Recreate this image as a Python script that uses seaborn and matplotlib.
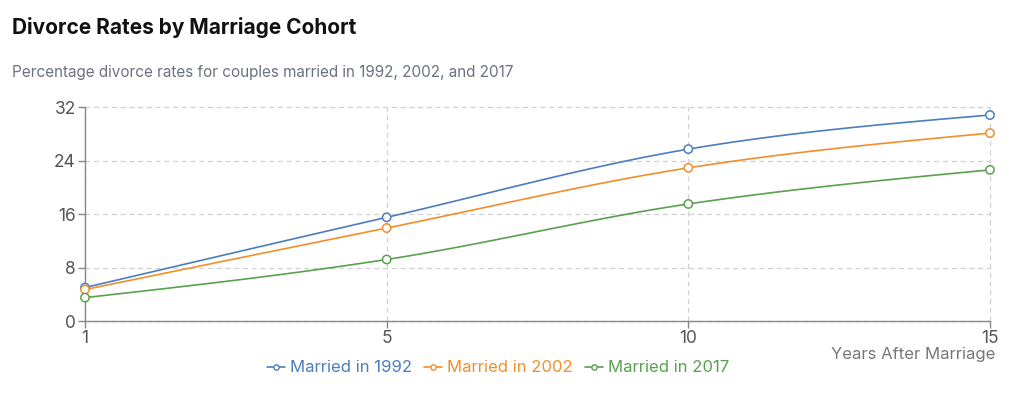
#!/usr/bin/env python3
"""Divorce rates by marriage cohort"""

import numpy as np
import pandas as pd
import seaborn as sns
import matplotlib.pyplot as plt
from matplotlib.lines import Line2D

###########################################################
# Data
###########################################################

years = [1, 5, 10, 15]
married_1992 = [5.0, 15.5, 25.7, 30.8]
married_2002 = [4.7, 13.9, 22.9, 28.1]
married_2017 = [3.5, 9.2, 17.5, 22.6]

series_names = ["Married in 1992", "Married in 2002", "Married in 2017"]
colors = ["#4c7dbd", "#f28e2b", "#59a14f"]

###########################################################
# Helper functions
###########################################################


def monotone_curve(xs, ys, n=40):
    """Monotone cubic interpolation (like d3.curveMonotoneX)"""
    xs = np.asarray(xs, float)
    ys = np.asarray(ys, float)
    h = np.diff(xs)
    s = np.diff(ys) / h
    t = np.zeros(len(xs))
    for i in range(1, len(xs) - 1):
        p = (s[i - 1] * h[i] + s[i] * h[i - 1]) / (h[i - 1] + h[i])
        t[i] = (np.sign(s[i - 1]) + np.sign(s[i])) * min(
            abs(s[i - 1]), abs(s[i]), 0.5 * abs(p)
        )
    t[0] = (3 * s[0] - t[1]) / 2
    t[-1] = (3 * s[-1] - t[-2]) / 2
    out_x, out_y = [], []
    for i in range(len(xs) - 1):
        u = np.linspace(0, 1, n)
        h00 = 2 * u**3 - 3 * u**2 + 1
        h10 = u**3 - 2 * u**2 + u
        h01 = -2 * u**3 + 3 * u**2
        h11 = u**3 - u**2
        out_x.extend(xs[i] + u * h[i])
        out_y.extend(
            h00 * ys[i] + h10 * h[i] * t[i] + h01 * ys[i + 1] + h11 * h[i] * t[i + 1]
        )
    return out_x, out_y


###########################################################
# Main
###########################################################


def main():
    sns.set_theme(style="white")
    plt.rcParams["font.family"] = ["Inter", "DejaVu Sans"]

    pos = list(range(len(years)))
    points = pd.DataFrame(
        {
            "pos": pos * 3,
            "rate": married_1992 + married_2002 + married_2017,
            "cohort": np.repeat(series_names, len(years)),
        }
    )
    curves = []
    for name, vals in zip(series_names, [married_1992, married_2002, married_2017]):
        cx, cy = monotone_curve(pos, vals)
        curves.append(pd.DataFrame({"pos": cx, "rate": cy, "cohort": name}))
    curves = pd.concat(curves, ignore_index=True)

    fig = plt.figure(figsize=(10.24, 3.94), dpi=100)
    ax = fig.add_axes([85 / 1024, 1 - 321 / 394, 905 / 1024, 214 / 394])

    palette = dict(zip(series_names, colors))
    sns.lineplot(
        data=curves, x="pos", y="rate", hue="cohort", palette=palette,
        linewidth=1.2, legend=False, ax=ax, sort=False, estimator=None,
        zorder=3,
    )
    sns.scatterplot(
        data=points, x="pos", y="rate", hue="cohort", palette=palette,
        facecolor="white", linewidth=1.1, s=36, legend=False, ax=ax, zorder=4,
    )
    # hollow markers: edge colour per series
    coll = ax.collections[-1]
    coll.set_edgecolor([palette[c] for c in points["cohort"]])
    coll.set_facecolor("white")

    ax.set_xlim(0, len(years) - 1)
    ax.set_ylim(0, 32)
    ax.set_xticks(pos)
    ax.set_xticklabels([str(y) for y in years])
    ax.set_yticks([0, 8, 16, 24, 32])
    ax.set_xlabel("")
    ax.set_ylabel("")

    ax.grid(True, color="#d0d0d0", linestyle=(0, (4, 3)), linewidth=0.9)
    for gl in ax.get_xgridlines() + ax.get_ygridlines():
        gl.set_clip_on(False)
    for side in ["top", "right"]:
        ax.spines[side].set_visible(False)
    for side in ["left", "bottom"]:
        ax.spines[side].set_color("#888888")
        ax.spines[side].set_linewidth(1.0)
    ax.tick_params(
        axis="both", which="both", length=5, width=1, color="#888888",
        labelcolor="#555555", labelsize=12.5, direction="out", pad=1.5,
        bottom=True, left=True,
    )
    for c in ax.collections:
        c.set_clip_on(False)
    for l in ax.lines:
        l.set_clip_on(False)

    fig.text(12 / 1024, 1 - 27 / 394, "Divorce Rates by Marriage Cohort",
             fontsize=15, fontweight="bold", color="#111111", va="center")
    fig.text(12 / 1024, 1 - 73 / 394,
             "Percentage divorce rates for couples married in 1992, 2002, and 2017",
             fontsize=11, color="#6b7280", va="center")
    fig.text(995 / 1024, 1 - 354 / 394, "Years After Marriage",
             fontsize=12, color="#777777", ha="right", va="center")

    handles = [
        Line2D([], [], color=c, marker="o", markerfacecolor="white",
               markersize=3.8, linewidth=1.2)
        for c in colors
    ]
    leg = fig.legend(
        handles, series_names, loc="center", bbox_to_anchor=(498 / 1024, 1 - 368 / 394),
        ncol=3, frameon=False, fontsize=12, handlelength=1.1,
        handletextpad=0.3, columnspacing=0.7,
    )
    for text, c in zip(leg.get_texts(), colors):
        text.set_color(c)

    fig.savefig("out.png", dpi=100)


if __name__ == "__main__":
    main()
